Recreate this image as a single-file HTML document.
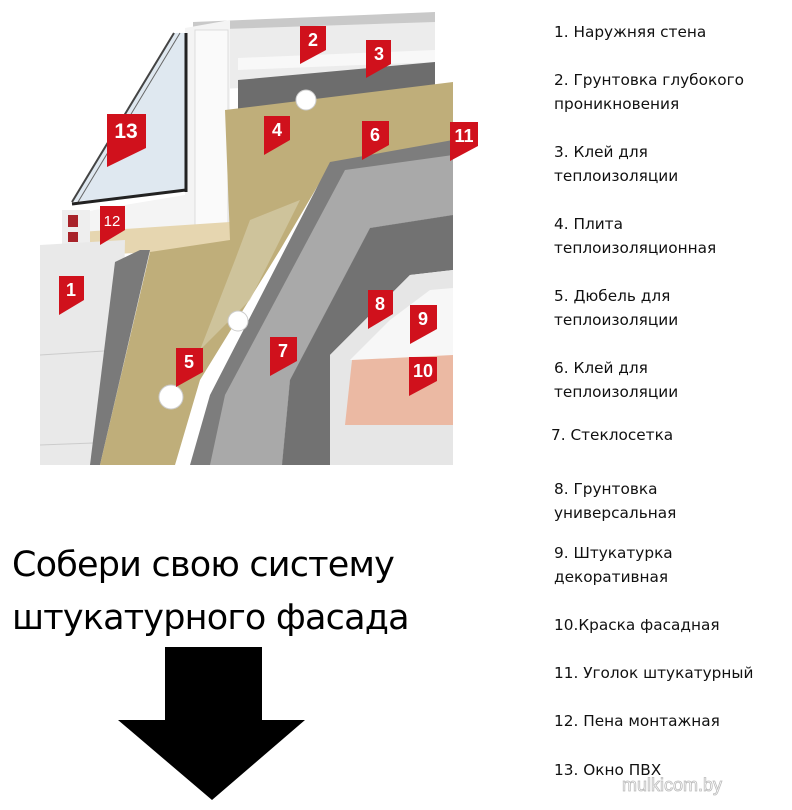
<!DOCTYPE html>
<html><head><meta charset="utf-8"><style>
body{margin:0;background:#fff;width:792px;height:810px;overflow:hidden;position:relative;font-family:"Liberation Sans","DejaVu Sans",sans-serif}
.t{position:absolute;left:554px;color:#111;line-height:24px;font-family:"DejaVu Sans","Liberation Sans",sans-serif;font-size:15.3px}
.big{position:absolute;left:12px;font-size:35px;color:#000;font-family:"DejaVu Sans","Liberation Sans",sans-serif;letter-spacing:-0.8px}
</style></head><body>
<svg width="792" height="810" style="position:absolute;left:0;top:0">
<!-- top wall block -->
<polygon points="193,25 435,14 435,80 193,90" fill="#ececec"/>
<polygon points="193,22 435,12 435,22 193,30" fill="#c9c9c9"/>
<polygon points="238,58 435,50 435,62 238,70" fill="#f8f8f8"/>
<polygon points="238,80 435,62 435,90 238,110" fill="#6d6d6d"/>
<!-- window frame -->
<polygon points="185,28 230,20 230,230 80,245 65,215 185,195" fill="#f4f4f4"/>
<!-- window glass -->
<polygon points="174,33 186,33 186,190 72,202" fill="#dfe8f0"/>
<line x1="174" y1="33" x2="72" y2="202" stroke="#444" stroke-width="2"/>
<line x1="180" y1="33" x2="78" y2="202" stroke="#666" stroke-width="1"/>
<line x1="186" y1="33" x2="186" y2="192" stroke="#222" stroke-width="3"/>
<line x1="186" y1="190" x2="72" y2="204" stroke="#222" stroke-width="3"/>
<polygon points="195,30 228,30 228,225 195,225" fill="#fafafa" stroke="#ddd"/>
<polygon points="80,232 230,222 230,250 80,255" fill="#e6d6b0"/>
<polygon points="62,210 90,210 90,245 62,245" fill="#eee"/>
<rect x="68" y="215" width="10" height="12" fill="#a8232a"/>
<rect x="68" y="232" width="10" height="10" fill="#a8232a"/>
<!-- left wall 1 -->
<polygon points="40,245 125,240 120,465 40,465" fill="#e9e9e9"/>
<line x1="40" y1="355" x2="120" y2="350" stroke="#ccc"/>
<line x1="40" y1="445" x2="120" y2="442" stroke="#ccc"/>
<polygon points="115,262 140,250 150,250 100,465 90,465" fill="#7a7a7a"/>
<!-- insulation -->
<polygon points="225,110 453,82 453,150 330,165 280,250 200,380 175,465 100,465 150,252 230,240" fill="#bfae7a"/>
<!-- mesh/gray adhesive -->
<polygon points="330,162 453,140 453,215 370,228 290,380 282,465 190,465 210,395" fill="#7d7d7d"/>
<polygon points="345,170 453,155 453,215 370,228 290,380 282,465 210,465 225,395" fill="#a9a9a9"/>
<polygon points="250,220 300,200 250,300 200,350 235,260" fill="#d9d1b0" opacity="0.6"/>
<!-- second gray 8 -->
<polygon points="370,228 453,215 453,270 410,275 330,355 330,465 282,465 290,380" fill="#727272"/>
<!-- plaster 9 -->
<polygon points="410,275 453,270 453,465 330,465 330,355" fill="#e6e6e6"/>
<polygon points="430,290 453,288 453,360 350,360 390,320" fill="#f7f7f7"/>
<polygon points="352,360 453,355 453,425 345,425" fill="#ebb9a3"/>
<!-- dowels -->
<circle cx="306" cy="100" r="10" fill="#fff" stroke="#ccc"/>
<circle cx="238" cy="321" r="10" fill="#fff" stroke="#ccc"/>
<circle cx="171" cy="397" r="12" fill="#fff" stroke="#ccc"/>
<!-- labels -->
<g fill="#d0111c">
<polygon points="300,26 326,26 326,50 300,64"/>
<polygon points="366,40 391,40 391,64 366,78"/>
<polygon points="107,114 146,114 146,148 107,167"/>
<polygon points="264,116 290,116 290,140 264,155"/>
<polygon points="362,121 389,121 389,145 362,160"/>
<polygon points="450,122 478,122 478,146 450,161"/>
<polygon points="100,206 125,206 125,230 100,245"/>
<polygon points="59,276 84,276 84,300 59,315"/>
<polygon points="368,290 393,290 393,314 368,329"/>
<polygon points="410,305 437,305 437,329 410,344"/>
<polygon points="176,348 203,348 203,372 176,387"/>
<polygon points="270,337 297,337 297,361 270,376"/>
<polygon points="409,357 437,357 437,381 409,396"/>
</g>
<g fill="#fff" font-family="Liberation Sans,sans-serif" font-weight="bold" font-size="18" text-anchor="middle">
<text x="313" y="46">2</text><text x="379" y="60">3</text><text x="126" y="138" font-size="21">13</text>
<text x="277" y="136">4</text><text x="375" y="141">6</text><text x="464" y="142">11</text>
<text x="112" y="226" font-weight="normal" font-size="15">12</text><text x="71" y="296">1</text>
<text x="380" y="310">8</text><text x="423" y="325">9</text><text x="189" y="368">5</text>
<text x="283" y="357">7</text><text x="423" y="377">10</text>
</g>
<!-- arrow -->
<polygon points="165,647 262,647 262,720 305,720 212,800 118,720 165,720" fill="#000"/>
<text x="672" y="791" font-family="Liberation Sans,sans-serif" font-size="18" fill="#fff" stroke="#bbb" stroke-width="0.8" text-anchor="middle">mulkicom.by</text>
</svg>
<div class="t" style="top:20px">1. Наружняя стена</div>
<div class="t" style="top:68px">2. Грунтовка глубокого<br>проникновения</div>
<div class="t" style="top:140px">3. Клей для<br>теплоизоляции</div>
<div class="t" style="top:212px">4. Плита<br>теплоизоляционная</div>
<div class="t" style="top:284px">5. Дюбель для<br>теплоизоляции</div>
<div class="t" style="top:356px">6. Клей для<br>теплоизоляции</div>
<div class="t" style="top:423px;left:551px">7. Стеклосетка</div>
<div class="t" style="top:477px">8. Грунтовка<br>универсальная</div>
<div class="t" style="top:541px">9. Штукатурка<br>декоративная</div>
<div class="t" style="top:613px">10.Краска фасадная</div>
<div class="t" style="top:661px">11. Уголок штукатурный</div>
<div class="t" style="top:709px">12. Пена монтажная</div>
<div class="t" style="top:758px">13. Окно ПВХ</div>
<div class="big" style="top:545px">Собери свою систему</div>
<div class="big" style="top:598px">штукатурного фасада</div>
</body></html>
